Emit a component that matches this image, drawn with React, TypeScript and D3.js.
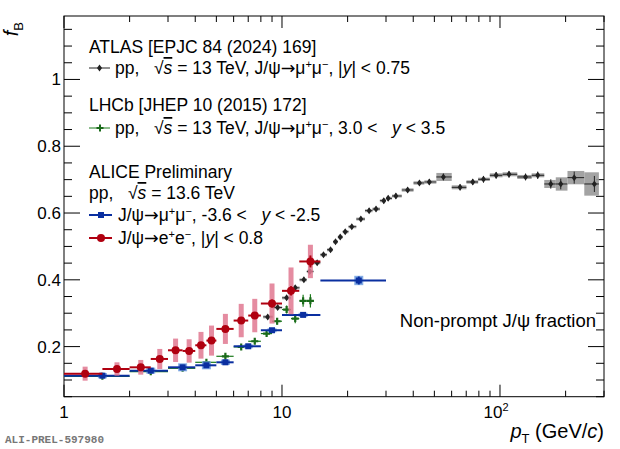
import React from "react";
import * as d3 from "d3";

const atlasPt = [8.6, 9.55, 10.5, 11.5, 12.6, 13.4, 14.5, 15.5, 16.7, 17.6, 18.5, 19.5, 20.9, 23, 25.1, 27, 29.3, 30.7, 33.3, 37.7, 42.7, 47.4, 55, 65.6, 75, 84, 96, 110, 131, 149, 171, 190, 219, 271];
const atlasF = [0.289, 0.317, 0.346, 0.376, 0.4, 0.425, 0.451, 0.475, 0.49, 0.514, 0.528, 0.544, 0.559, 0.582, 0.607, 0.612, 0.637, 0.644, 0.651, 0.669, 0.69, 0.693, 0.708, 0.677, 0.693, 0.701, 0.713, 0.716, 0.708, 0.713, 0.687, 0.687, 0.706, 0.687];
const atlasSyst = [0.005, 0.005, 0.005, 0.005, 0.005, 0.005, 0.005, 0.005, 0.005, 0.005, 0.005, 0.005, 0.005, 0.005, 0.005, 0.005, 0.005, 0.005, 0.005, 0.006, 0.006, 0.006, 0.012, 0.006, 0.005, 0.005, 0.006, 0.006, 0.006, 0.006, 0.012, 0.02, 0.02, 0.035];
const atlasStat = [0.003, 0.003, 0.003, 0.003, 0.003, 0.003, 0.003, 0.003, 0.003, 0.003, 0.003, 0.003, 0.003, 0.003, 0.003, 0.003, 0.004, 0.004, 0.004, 0.004, 0.005, 0.005, 0.006, 0.005, 0.005, 0.006, 0.006, 0.006, 0.006, 0.007, 0.01, 0.012, 0.014, 0.02];

const lhcbLo = [1, 2, 3, 4, 5, 6, 7, 8, 9, 10, 11, 12, 13];
const lhcbHi = [2, 3, 4, 5, 6, 7, 8, 9, 10, 11, 12, 13, 14];
const lhcbF = [0.111, 0.125, 0.135, 0.153, 0.171, 0.199, 0.216, 0.239, 0.276, 0.311, 0.284, 0.337, 0.337];
const lhcbStat = [0.004, 0.004, 0.004, 0.005, 0.006, 0.006, 0.007, 0.008, 0.01, 0.012, 0.014, 0.018, 0.02];

const muLo = [1, 2, 3, 4, 5, 6, 8, 10, 15];
const muHi = [2, 3, 4, 5, 6, 8, 10, 15, 30];
const muF = [0.113, 0.128, 0.138, 0.144, 0.153, 0.201, 0.249, 0.295, 0.398];
const muSyst = [0.008, 0.009, 0.012, 0.012, 0.008, 0.006, 0.006, 0.006, 0.014];
const muStat = [0.003, 0.003, 0.003, 0.004, 0.004, 0.004, 0.005, 0.006, 0.012];

const eeLo = [1, 1.5, 2, 2.5, 3, 3.5, 4, 4.5, 5, 6, 7, 8, 10, 12];
const eeHi = [1.5, 2, 2.5, 3, 3.5, 4, 4.5, 5, 6, 7, 8, 10, 12, 15];
const eeF = [0.119, 0.133, 0.138, 0.163, 0.189, 0.187, 0.204, 0.218, 0.253, 0.278, 0.293, 0.329, 0.367, 0.455];
const eeSyst = [0.021, 0.02, 0.022, 0.03, 0.035, 0.035, 0.04, 0.045, 0.045, 0.05, 0.05, 0.06, 0.07, 0.05];
const eeStat = [0.004, 0.004, 0.005, 0.005, 0.006, 0.006, 0.007, 0.008, 0.008, 0.01, 0.01, 0.012, 0.014, 0.018];

const yTicks = [0.2, 0.4, 0.6, 0.8, 1];

const L = 64, R = 604, T = 16, B = 396.7;
const FONT = "'Liberation Sans', Arial, sans-serif";
const S = "\u00a0";

function Arrow() {
  return <tspan fontFamily="'DejaVu Sans', sans-serif">→</tspan>;
}

function Sqrt({ v }: { v: string }) {
  return (
    <>
      <tspan>{S + S + S}√</tspan>
      <tspan fontStyle="italic" textDecoration="overline">s</tspan>
      <tspan>{S}=</tspan>
      <tspan>{" " + v}</tspan>
    </>
  );
}

function MuMu() {
  return (
    <>
      <tspan>J/ψ</tspan><Arrow /><tspan>μ</tspan>
      <tspan dy={-6} fontSize={11}>+</tspan>
      <tspan dy={6}>μ</tspan>
      <tspan dy={-6} fontSize={11}>−</tspan>
      <tspan dy={6}>,</tspan>
    </>
  );
}

export default function App() {
  const x = d3.scaleLog().domain([1, 300]).range([L, R]);
  const y = d3.scaleLinear().domain([0.05, 1.19]).range([B, T]);
  const minorX = d3.range(1, 301).filter((v) => {
    const p = Math.pow(10, Math.floor(Math.log10(v) + 1e-9));
    return v % p === 0;
  });
  const majorX = [1, 10, 100];
  const minorY = d3.range(0.05, 1.19, 0.05).map((v) => +v.toFixed(2));

  const atlasEdges = atlasPt.map((p, i) => {
    const prev = i > 0 ? atlasPt[i - 1] : p / 1.1;
    const next = i < atlasPt.length - 1 ? atlasPt[i + 1] : p * 1.1;
    return [Math.sqrt(prev * p), Math.sqrt(p * next)];
  });

  return (
    <svg width={620} height={449} style={{ position: "absolute", left: 0, top: 0, fontFamily: FONT }}>
      <rect width={620} height={449} fill="white" />
      <rect x={L} y={T} width={R - L} height={B - T} fill="none" stroke="black" strokeWidth={1} />
      {minorX.map((v) => {
        const len = majorX.includes(v) ? 12 : 6;
        return (
          <g key={"x" + v}>
            <line x1={x(v)} x2={x(v)} y1={B} y2={B - len} stroke="black" />
            <line x1={x(v)} x2={x(v)} y1={T} y2={T + len} stroke="black" />
          </g>
        );
      })}
      {minorY.map((v) => {
        const maj = yTicks.some((t) => Math.abs(t - v) < 1e-6);
        const len = maj ? 16 : 8;
        return (
          <g key={"y" + v}>
            <line x1={L} x2={L + len} y1={y(v)} y2={y(v)} stroke="black" />
            <line x1={R} x2={R - len} y1={y(v)} y2={y(v)} stroke="black" />
          </g>
        );
      })}
      {yTicks.map((v) => (
        <text key={"yl" + v} x={L - 3} y={y(v) + 6} fontSize={17} textAnchor="end">{v === 1 ? "1" : v.toFixed(1)}</text>
      ))}
      <text x={x(1)} y={418} fontSize={17} textAnchor="middle">1</text>
      <text x={x(10)} y={418} fontSize={17} textAnchor="middle">10</text>
      <text x={x(100) - 4} y={418} fontSize={17} textAnchor="middle">10<tspan dy={-7} fontSize={11}>2</tspan></text>
      <text x={604} y={438} fontSize={20} textAnchor="end">
        <tspan fontStyle="italic">p</tspan><tspan dy={5} fontSize={13}>T</tspan><tspan dy={-5}>{S}(GeV/</tspan><tspan fontStyle="italic">c</tspan>)
      </text>
      <text transform="translate(18,22) rotate(-90)" fontSize={20} textAnchor="end">
        <tspan fontStyle="italic">f</tspan><tspan dy={5} fontSize={13}>B</tspan>
      </text>
      <text x={5} y={443} fontSize={11} fontFamily="'Liberation Mono', 'DejaVu Sans Mono', monospace" fontWeight="bold" fill="#777">ALI-PREL-597980</text>

      {atlasPt.map((p, i) => (
        <g key={"a" + i}>
          <rect x={x(atlasEdges[i][0])} width={x(atlasEdges[i][1]) - x(atlasEdges[i][0])} y={y(atlasF[i] + atlasSyst[i])} height={y(atlasF[i] - atlasSyst[i]) - y(atlasF[i] + atlasSyst[i])} fill="#999" opacity={p > 50 ? 0.9 : 0.6} />
          <line x1={x(atlasEdges[i][0])} x2={x(atlasEdges[i][1])} y1={y(atlasF[i])} y2={y(atlasF[i])} stroke="#222" strokeWidth={1} />
          <line x1={x(p)} x2={x(p)} y1={y(atlasF[i] + atlasStat[i] + 0.004)} y2={y(atlasF[i] - atlasStat[i] - 0.004)} stroke="#222" strokeWidth={1} />
          <path d={`M${x(p)},${y(atlasF[i]) - 3.5}L${x(p) + 2.5},${y(atlasF[i])}L${x(p)},${y(atlasF[i]) + 3.5}L${x(p) - 2.5},${y(atlasF[i])}Z`} fill="#222" />
        </g>
      ))}
      {lhcbF.map((f, i) => {
        const cx = x((lhcbLo[i] + lhcbHi[i]) / 2);
        return (
          <g key={"l" + i}>
            <line x1={x(lhcbLo[i])} x2={x(lhcbHi[i])} y1={y(f)} y2={y(f)} stroke="#1a7a1a" strokeWidth={1.2} />
            <line x1={cx} x2={cx} y1={y(f + lhcbStat[i])} y2={y(f - lhcbStat[i])} stroke="#1a7a1a" strokeWidth={1.2} />
            <path d={`M${cx - 3.5},${y(f)}H${cx + 3.5}M${cx},${y(f) - 3.5}V${y(f) + 3.5}`} stroke="#1a6a1a" strokeWidth={2.2} />
          </g>
        );
      })}
      {muF.map((f, i) => {
        const cx = x((muLo[i] + muHi[i]) / 2);
        return (
          <g key={"m" + i}>
            <rect x={cx - 4.5} width={9} y={y(f + muSyst[i])} height={y(f - muSyst[i]) - y(f + muSyst[i])} fill="#6f9fe0" opacity={0.85} />
            <line x1={x(muLo[i])} x2={x(muHi[i])} y1={y(f)} y2={y(f)} stroke="#0a2fa0" strokeWidth={2} />
            <line x1={cx} x2={cx} y1={y(f + muStat[i])} y2={y(f - muStat[i])} stroke="#0a2fa0" strokeWidth={2} />
            <rect x={cx - 3} y={y(f) - 3} width={6} height={6} fill="#0a2fa0" />
          </g>
        );
      })}
      {eeF.map((f, i) => {
        const cx = x((eeLo[i] + eeHi[i]) / 2);
        return (
          <g key={"e" + i}>
            <rect x={cx - 2.5} width={5} y={y(f + eeSyst[i])} height={y(f - eeSyst[i]) - y(f + eeSyst[i])} fill="#e07890" opacity={0.85} />
            <line x1={x(eeLo[i])} x2={x(eeHi[i])} y1={y(f)} y2={y(f)} stroke="#b00010" strokeWidth={2} />
            <line x1={cx} x2={cx} y1={y(f + eeStat[i])} y2={y(f - eeStat[i])} stroke="#b00010" strokeWidth={2} />
            <circle cx={cx} cy={y(f)} r={4} fill="#b00010" />
          </g>
        );
      })}

      <g fontSize={17.5}>
        <text x={89} y={53}>ATLAS [EPJC 84 (2024) 169]</text>
        <line x1={89} x2={110} y1={68} y2={68} stroke="#222" />
        <path d="M99.5,64.5L102,68L99.5,71.5L97,68Z" fill="#222" />
        <text x={115} y={74}>pp,<Sqrt v="13 TeV, " /><MuMu /><tspan>{" |"}</tspan><tspan fontStyle="italic">y</tspan><tspan>| &lt; 0.75</tspan></text>

        <text x={89} y={111}>LHCb [JHEP 10 (2015) 172]</text>
        <line x1={89} x2={110} y1={128} y2={128} stroke="#1a7a1a" />
        <path d="M96.5,128H103.5M100,124.5V131.5" stroke="#1a6a1a" strokeWidth={2} />
        <text x={115} y={134}>pp,<Sqrt v="13 TeV, " /><MuMu /><tspan>{" 3.0 <" + S + S + S}</tspan><tspan fontStyle="italic">y</tspan><tspan> &lt; 3.5</tspan></text>

        <text x={89} y={178}>ALICE Preliminary</text>
        <text x={89} y={199}>pp,<Sqrt v="13.6 TeV" /></text>
        <line x1={89} x2={112} y1={215} y2={215} stroke="#0a2fa0" strokeWidth={2} />
        <rect x={98} y={212} width={6} height={6} fill="#0a2fa0" />
        <text x={118} y={221}><MuMu /><tspan>{" -3.6 <" + S + S + S}</tspan><tspan fontStyle="italic">y</tspan><tspan> &lt; -2.5</tspan></text>
        <line x1={89} x2={112} y1={238} y2={238} stroke="#b00010" strokeWidth={2} />
        <circle cx={101} cy={238} r={4} fill="#b00010" />
        <text x={118} y={244}>J/ψ<Arrow />e<tspan dy={-6} fontSize={11}>+</tspan><tspan dy={6}>e</tspan><tspan dy={-6} fontSize={11}>−</tspan><tspan dy={6}>, |</tspan><tspan fontStyle="italic">y</tspan><tspan>| &lt; 0.8</tspan></text>

        <text x={596} y={327} textAnchor="end" fontSize={18.5}>Non-prompt J/ψ fraction</text>
      </g>
    </svg>
  );
}
